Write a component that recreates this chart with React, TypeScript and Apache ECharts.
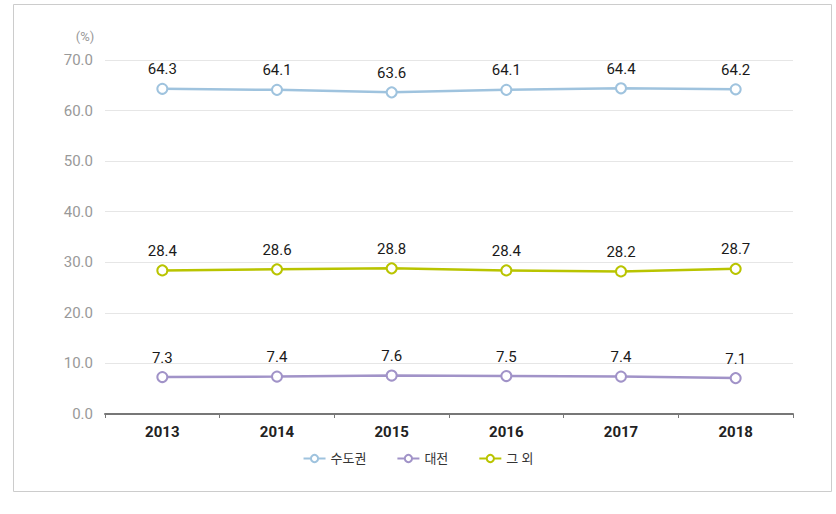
import React, { useEffect, useRef } from "react";
import * as echarts from "echarts";

const years = ["2013", "2014", "2015", "2016", "2017", "2018"];
const capital = [64.3, 64.1, 63.6, 64.1, 64.4, 64.2];
const daejeon = [7.3, 7.4, 7.6, 7.5, 7.4, 7.1];
const others = [28.4, 28.6, 28.8, 28.4, 28.2, 28.7];
const seriesNames = ["수도권", "대전", "그 외"];
const colors = ["#9fc3de", "#a193c8", "#b9c400"];

export default function App() {
  const ref = useRef<HTMLDivElement>(null);
  useEffect(() => {
    if (!ref.current) return;
    const chart = echarts.init(ref.current, null, { renderer: "svg" });
    const font = "Roboto, 'Noto Sans CJK KR', sans-serif";
    const mk = (name: string, data: number[], color: string) => ({
      name,
      type: "line",
      data,
      symbol: "emptyCircle",
      symbolSize: 10,
      lineStyle: { color, width: 2.5 },
      itemStyle: { color, borderColor: color, borderWidth: 2.5 },
      label: {
        show: true,
        position: "top",
        distance: 6,
        color: "#1a1a1a",
        fontSize: 15,
        fontWeight: "normal",
        fontFamily: font,
        formatter: (p: any) => Number(p.value).toFixed(1),
      },
    });
    chart.setOption({
      animation: false,
      textStyle: { fontFamily: font },
      grid: { left: 105, right: 43, top: 60, bottom: 100 },
      graphic: [
        {
          type: "rect",
          shape: { x: 13.5, y: 4.5, width: 818, height: 487 },
          style: { fill: "none", stroke: "#cccccc", lineWidth: 1 },
          silent: true,
        },
        {
          type: "text",
          x: 85,
          y: 36,
          style: { text: "(%)", fill: "#999", fontSize: 13, fontFamily: font, align: "center", verticalAlign: "middle" },
        },
      ],
      legend: {
        bottom: 44,
        left: "center",
        itemGap: 30,
        itemWidth: 22,
        itemHeight: 9,
        textStyle: { color: "#333", fontSize: 13, fontFamily: font },
        data: seriesNames,
      },
      xAxis: {
        type: "category",
        data: years,
        boundaryGap: true,
        axisLine: { lineStyle: { color: "#777", width: 2 } },
        axisTick: { show: true, length: 4, lineStyle: { color: "#777" } },
        axisLabel: { color: "#222", fontSize: 15, fontWeight: "bold", margin: 10, fontFamily: font },
      },
      yAxis: {
        type: "value",
        min: 0,
        max: 70,
        interval: 10,
        axisLine: { show: false },
        axisTick: { show: false },
        axisLabel: {
          color: "#999",
          fontSize: 15,
          margin: 12,
          fontFamily: font,
          formatter: (v: number) => v.toFixed(1),
        },
        splitLine: { lineStyle: { color: "#e6e6e6", width: 1 } },
      },
      series: [
        mk(seriesNames[0], capital, colors[0]),
        mk(seriesNames[1], daejeon, colors[1]),
        mk(seriesNames[2], others, colors[2]),
      ],
    });
    return () => chart.dispose();
  }, []);
  return (
    <div
      ref={ref}
      style={{ position: "fixed", left: 0, top: 0, width: 836, height: 514, background: "#fff" }}
    />
  );
}
